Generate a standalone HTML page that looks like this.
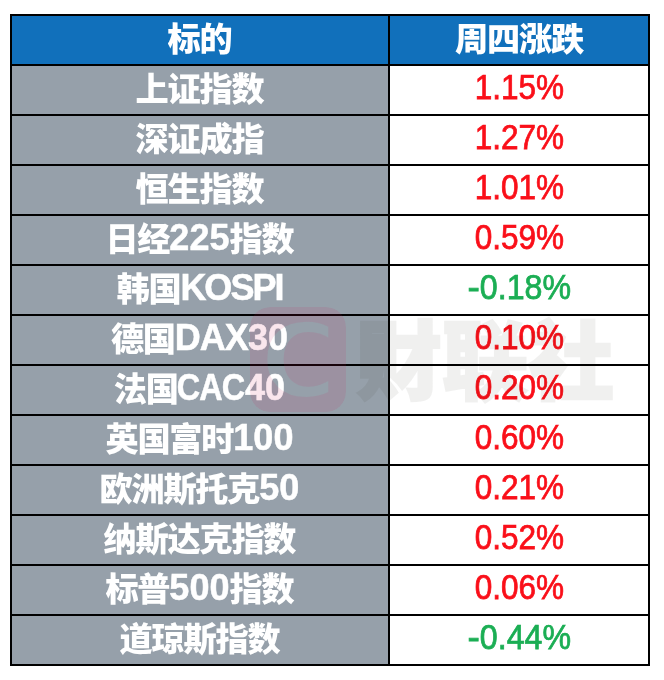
<!DOCTYPE html>
<html lang="zh-CN">
<head>
<meta charset="utf-8">
<title>周四涨跌</title>
<style>
html,body{margin:0;padding:0;background:#fff;}
body{width:664px;height:680px;position:relative;overflow:hidden;font-family:"Liberation Sans","Noto Sans CJK SC",sans-serif;}
.grid{position:absolute;left:10px;top:14px;width:640px;height:652px;background:#000;}
.c{position:absolute;height:48px;line-height:48px;text-align:center;font-size:32px;white-space:nowrap;overflow:hidden;}
.l{left:2px;width:376px;background:#96a0aa;color:#fff;font-weight:900;font-size:33.2px;letter-spacing:-1.2px;}
.n,.a{-webkit-text-stroke:0.5px #fff;font-size:36px;line-height:0;position:relative;top:-1.5px;}
.a{letter-spacing:-2px;}
.n{letter-spacing:0;}
.a.dax{letter-spacing:-1px;}
.a.cac{display:inline-block;letter-spacing:-1px;transform:scaleX(0.9);margin:0 -3.4px 0 -4.2px;line-height:normal;}
.v{left:380px;width:258px;background:#fff;font-size:34.8px;}
.v span{transform:scaleX(0.906);top:-3.2px;-webkit-text-stroke:0.75px currentColor;}
.v i{font-style:normal;display:inline-block;transform:scaleX(1.15);margin:0 1px 0 1px;}
.v.g span{transform:scaleX(0.924);}
.v.h span{transform:none;top:0;-webkit-text-stroke:0;}
.h{background:#1170bb;color:#fff;font-weight:900;font-size:33.2px;letter-spacing:-1.2px;}
.r{color:#fa0f19;}
.g{color:#1bae54;}
.c span{display:inline-block;position:relative;}
.c b{font-weight:inherit;}
.l span{left:-0.6px;}
.wm{position:absolute;left:0;top:0;width:664px;height:680px;pointer-events:none;}
</style>
</head>
<body>
<div class="grid">
<div class="c l h" style="top:2px"><span>标的</span></div><div class="c v h" style="top:2px"><span>周四涨跌</span></div>
<div class="c l" style="top:52px"><span>上证指数</span></div><div class="c v r" style="top:52px"><span>1.15%</span></div>
<div class="c l" style="top:102px"><span>深证成指</span></div><div class="c v r" style="top:102px"><span>1.27%</span></div>
<div class="c l" style="top:152px"><span>恒生指数</span></div><div class="c v r" style="top:152px"><span>1.01%</span></div>
<div class="c l" style="top:202px"><span>日经<b class="n">225</b>指数</span></div><div class="c v r" style="top:202px"><span>0.59%</span></div>
<div class="c l" style="top:252px"><span>韩国<b class="a kospi">KOSPI</b></span></div><div class="c v g" style="top:252px"><span><i>-</i>0.18%</span></div>
<div class="c l" style="top:302px"><span>德国<b class="a dax">DAX</b><b class="n">30</b></span></div><div class="c v r" style="top:302px"><span>0.10%</span></div>
<div class="c l" style="top:352px"><span>法国<b class="a cac">CAC</b><b class="n">40</b></span></div><div class="c v r" style="top:352px"><span>0.20%</span></div>
<div class="c l" style="top:402px"><span>英国富时<b class="n">100</b></span></div><div class="c v r" style="top:402px"><span>0.60%</span></div>
<div class="c l" style="top:452px"><span>欧洲斯托克<b class="n">50</b></span></div><div class="c v r" style="top:452px"><span>0.21%</span></div>
<div class="c l" style="top:502px"><span>纳斯达克指数</span></div><div class="c v r" style="top:502px"><span>0.52%</span></div>
<div class="c l" style="top:552px"><span>标普<b class="n">500</b>指数</span></div><div class="c v r" style="top:552px"><span>0.06%</span></div>
<div class="c l" style="top:602px"><span>道琼斯指数</span></div><div class="c v g" style="top:602px"><span><i>-</i>0.44%</span></div>
</div>
<svg class="wm" width="664" height="680" viewBox="0 0 664 680">
<defs><mask id="cm" maskUnits="userSpaceOnUse" x="240" y="300" width="120" height="120"><rect x="250" y="307" width="96" height="105" rx="20" ry="20" fill="#fff"/>
<text x="298.5" y="397.5" font-family="DejaVu Sans, sans-serif" font-weight="bold" font-size="105" text-anchor="middle" fill="#000" stroke="#fff" stroke-width="4">C</text></mask></defs>
<rect x="250" y="307" width="96" height="105" rx="20" ry="20" fill="#d21e5a" fill-opacity="0.11" mask="url(#cm)"/>
<g opacity="0.058"><text x="356" y="393.2" font-family="Liberation Sans, Noto Sans CJK SC, sans-serif" font-weight="900" font-size="86" fill="#1a1a00" stroke="#1a1a00" stroke-width="2.4" stroke-linejoin="miter">财联社</text></g>
</svg>
</body>
</html>
